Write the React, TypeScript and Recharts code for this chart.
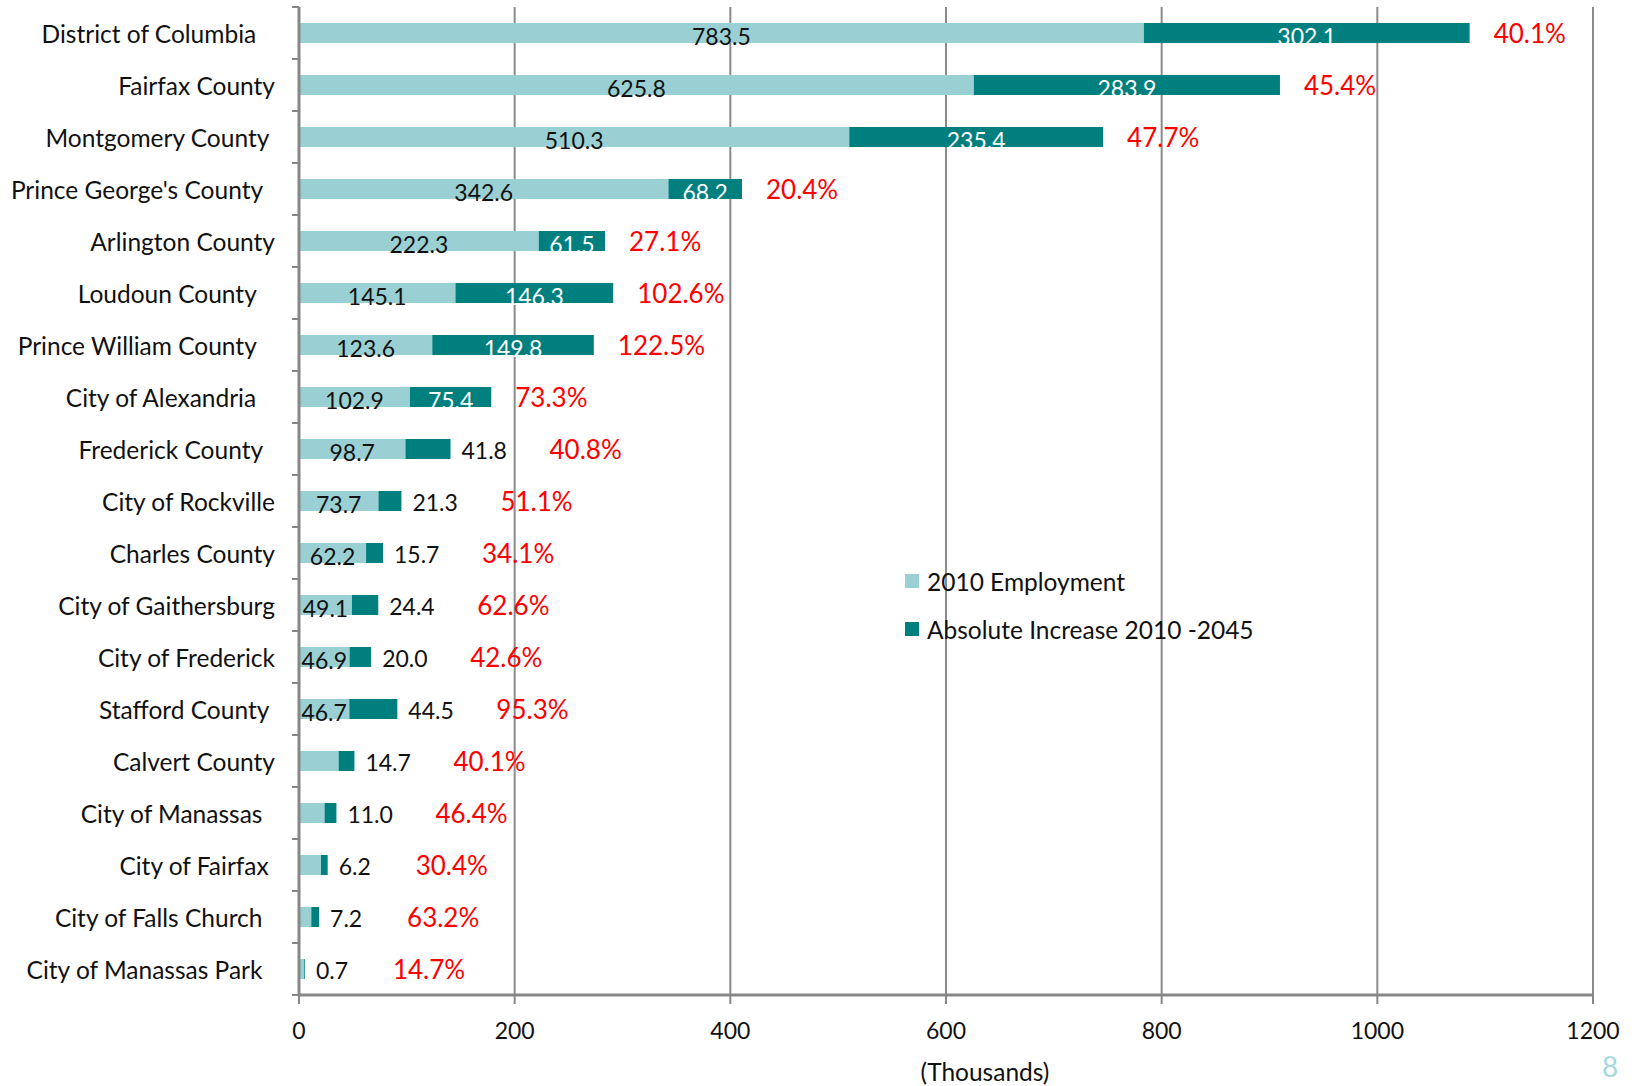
import React from 'react';
import { BarChart, Bar, XAxis, YAxis, CartesianGrid, LabelList } from 'recharts';

const categories = [
  'District of Columbia   ',
  'Fairfax County',
  'Montgomery County ',
  "Prince George's County  ",
  'Arlington County',
  'Loudoun County   ',
  'Prince William County   ',
  'City of Alexandria   ',
  'Frederick County  ',
  'City of Rockville',
  'Charles County',
  'City of Gaithersburg',
  'City of Frederick',
  'Stafford County ',
  'Calvert County',
  'City of Manassas  ',
  'City of Fairfax ',
  'City of Falls Church  ',
  'City of Manassas Park  ',
];
const employment2010 = [783.5, 625.8, 510.3, 342.6, 222.3, 145.1, 123.6, 102.9, 98.7, 73.7, 62.2, 49.1, 46.9, 46.7, 36.7, 23.7, 20.4, 11.4, 4.8];
const increase2010to2045 = [302.1, 283.9, 235.4, 68.2, 61.5, 146.3, 149.8, 75.4, 41.8, 21.3, 15.7, 24.4, 20.0, 44.5, 14.7, 11.0, 6.2, 7.2, 0.7];
const baseLabels = ['783.5', '625.8', '510.3', '342.6', '222.3', '145.1', '123.6', '102.9', '98.7', '73.7', '62.2', '49.1', '46.9', '46.7', '', '', '', '', ''];
const increaseLabels = ['302.1', '283.9', '235.4', '68.2', '61.5', '146.3', '149.8', '75.4', '41.8', '21.3', '15.7', '24.4', '20.0', '44.5', '14.7', '11.0', '6.2', '7.2', '0.7'];
const percentLabels = ['40.1%', '45.4%', '47.7%', '20.4%', '27.1%', '102.6%', '122.5%', '73.3%', '40.8%', '51.1%', '34.1%', '62.6%', '42.6%', '95.3%', '40.1%', '46.4%', '30.4%', '63.2%', '14.7%'];
const xTicks = [0, 200, 400, 600, 800, 1000, 1200];
const seriesNames = ['2010 Employment', 'Absolute Increase 2010 -2045'];

const data = categories.map((name, i) => ({
  name,
  base: employment2010[i],
  inc: increase2010to2045[i],
  baseLabel: baseLabels[i],
  incLabel: increaseLabels[i],
  pct: percentLabels[i],
}));

const W = 1643;
const H = 1086;
const MARGIN = { top: 7, right: 50, bottom: 0, left: 0 };
const Y_W = 299;
const X_H = 91;
const PLOT_H = H - MARGIN.top - MARGIN.bottom - X_H;
const BAND = PLOT_H / categories.length;
const FONT = 'Lato, "Noto Sans", sans-serif';
const LIGHT = '#9AD0D3';
const DARK = '#007F7F';
const AXIS = '#878787';
const CHAR_W = 11;

const CatTick = (props: any) => {
  const { y, payload } = props;
  const isLast = payload.value === categories[categories.length - 1];
  return (
    <g>
      <text
        x={275}
        y={y}
        textAnchor="end"
        dominantBaseline="central"
        fontFamily={FONT}
        fontSize={24.5}
        fill="#111"
        xmlSpace="preserve"
        style={{ whiteSpace: 'pre' }}
      >
        {payload.value}
      </text>
      <line x1={Y_W - 7} x2={Y_W} y1={y - BAND / 2} y2={y - BAND / 2} stroke={AXIS} strokeWidth={2} />
      {isLast && <line x1={Y_W - 7} x2={Y_W} y1={y + BAND / 2} y2={y + BAND / 2} stroke={AXIS} strokeWidth={2} />}
    </g>
  );
};

const XTick = (props: any) => {
  const { x, payload } = props;
  return (
    <text x={x} y={1030} textAnchor="middle" dominantBaseline="central" fontFamily={FONT} fontSize={23} fill="#111">
      {payload.value}
    </text>
  );
};

const BaseLabel = (props: any) => {
  const { x, y, width, height, value } = props;
  if (!value) return null;
  return (
    <text x={x + width / 2} y={y + height / 2 + 2.5} textAnchor="middle" dominantBaseline="central" fontFamily={FONT} fontSize={23} fill="#111">
      {value}
    </text>
  );
};

const incInside = (width: number, text: string) => width >= text.length * CHAR_W + 15;

const IncLabel = (props: any) => {
  const { x, y, width, height, value } = props;
  const s = String(value);
  if (incInside(width, s)) {
    return (
      <text x={x + width / 2} y={y + height / 2 + 2.5} textAnchor="middle" dominantBaseline="central" fontFamily={FONT} fontSize={23} fill="#fff">
        {s}
      </text>
    );
  }
  return (
    <text x={x + width + 11} y={y + height / 2 + 1} textAnchor="start" dominantBaseline="central" fontFamily={FONT} fontSize={23} fill="#111">
      {s}
    </text>
  );
};

const PctLabel = (props: any) => {
  const { x, y, width, height, value, index } = props;
  const inc = increaseLabels[index] ?? '';
  const end = x + width;
  const px = incInside(width, inc) ? end + 24 : end + 11 + inc.length * CHAR_W + 44;
  return (
    <text x={px} y={y + height / 2} textAnchor="start" dominantBaseline="central" fontFamily={FONT} fontSize={26} fill="#FF0000">
      {value}
    </text>
  );
};

const LegendBox = () => (
  <div style={{ position: 'absolute', left: 905, top: 557, fontFamily: FONT, fontSize: 24.5, color: '#111' }}>
    {[LIGHT, DARK].map((c, i) => (
      <div key={i} style={{ display: 'flex', alignItems: 'center', height: 48, whiteSpace: 'nowrap' }}>
        <div style={{ width: 14, height: 14, background: c, marginRight: 8 }} />
        <span>{seriesNames[i]}</span>
      </div>
    ))}
  </div>
);

export default function App() {
  return (
    <div style={{ position: 'absolute', left: 0, top: 0, width: W, height: H, background: '#fff' }}>
      <BarChart width={W} height={H} data={data} layout="vertical" margin={MARGIN} barSize={20}>
        <CartesianGrid horizontal={false} stroke="#8A8A8A" strokeWidth={2} />
        <XAxis
          type="number"
          domain={[0, 1200]}
          ticks={xTicks}
          height={X_H}
          axisLine={{ stroke: AXIS, strokeWidth: 3 }}
          tickLine={{ stroke: AXIS, strokeWidth: 2 }}
          tickSize={9}
          tick={<XTick />}
          interval={0}
        />
        <YAxis
          type="category"
          dataKey="name"
          width={Y_W}
          axisLine={{ stroke: AXIS, strokeWidth: 3 }}
          tickLine={false}
          tick={<CatTick />}
          interval={0}
        />
        <Bar dataKey="base" name={seriesNames[0]} stackId="a" fill={LIGHT} isAnimationActive={false}>
          <LabelList dataKey="baseLabel" content={<BaseLabel />} />
        </Bar>
        <Bar dataKey="inc" name={seriesNames[1]} stackId="a" fill={DARK} isAnimationActive={false}>
          <LabelList dataKey="incLabel" content={<IncLabel />} />
          <LabelList dataKey="pct" content={<PctLabel />} />
        </Bar>
      </BarChart>
      <LegendBox />
      <div style={{ position: 'absolute', left: 985, top: 1071, transform: 'translate(-50%, -50%)', fontFamily: FONT, fontSize: 24.5, color: '#111', whiteSpace: 'nowrap' }}>
        (Thousands)
      </div>
      <div style={{ position: 'absolute', left: 1610, top: 1066, transform: 'translate(-50%, -50%)', fontFamily: FONT, fontSize: 28, color: '#A6D8DC' }}>
        8
      </div>
    </div>
  );
}
